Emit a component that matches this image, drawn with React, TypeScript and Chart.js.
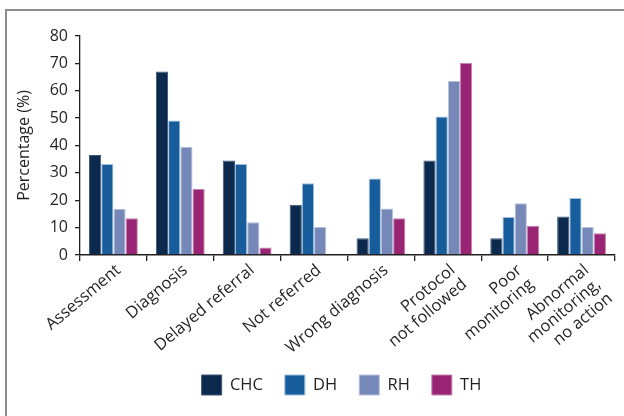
import React, { useEffect, useRef } from "react";
import { Chart, registerables } from "chart.js";

Chart.register(...registerables);

const categories: (string | string[])[] = [
  "Assessment",
  "Diagnosis",
  "Delayed referral",
  "Not referred",
  "Wrong diagnosis",
  ["Protocol", "not followed"],
  ["Poor", "monitoring"],
  ["Abnormal", "monitoring,", "no action"],
];

const chcValues = [36.5, 67.0, 34.5, 18.4, 6.1, 34.5, 6.1, 14.1];
const dhValues = [33.2, 49.1, 33.2, 26.2, 27.9, 50.6, 13.9, 20.8];
const rhValues = [16.9, 39.5, 12.0, 10.2, 17.0, 63.6, 18.9, 10.2];
const thValues = [13.4, 24.2, 2.7, 0, 13.4, 70.1, 10.7, 7.9];

const yTicks = [0, 10, 20, 30, 40, 50, 60, 70, 80];

const FONT = "'Open Sans', 'Noto Sans', sans-serif";
const TEXT = "#231f20";

const legendOverPlot = {
  id: "legendOverPlot",
  afterLayout(chart: any) {
    const lg = chart.legend;
    if (lg) {
      lg.left = chart.chartArea.left - 6;
      lg.right = chart.chartArea.right - 6;
    }
  },
};

export default function App() {
  const ref = useRef<HTMLCanvasElement | null>(null);
  useEffect(() => {
    if (!ref.current) return;
    const mk = (label: string, data: number[], bg: string, bd: string) => ({
      label,
      data,
      backgroundColor: bg,
      borderColor: bd,
      borderWidth: 1,
      borderSkipped: "bottom" as const,
      categoryPercentage: 0.73,
      barPercentage: 1,
    });
    const chart = new Chart(ref.current, {
      type: "bar",
      data: {
        labels: categories,
        datasets: [
          mk("CHC", chcValues, "#0b2a4e", "#3d5577"),
          mk("DH", dhValues, "#175d9b", "#9fbfdc"),
          mk("RH", rhValues, "#7688b8", "#b6c1de"),
          mk("TH", thValues, "#992474", "#c783b2"),
        ],
      },
      options: {
        animation: false,
        responsive: false,
        maintainAspectRatio: false,
        devicePixelRatio: 1,
        layout: { padding: { left: 11, top: 36, right: 9, bottom: 11 } },
        plugins: {
          tooltip: { enabled: false },
          legend: {
            position: "bottom",
            labels: {
              boxWidth: 20,
              boxHeight: 20,
              padding: 22,
              color: TEXT,
              font: { family: FONT, size: 16.5 },
            },
          },
        },
        scales: {
          x: {
            grid: {
              drawOnChartArea: false,
              drawTicks: true,
              tickLength: 6,
              color: TEXT,
              lineWidth: 1.3,
            },
            border: { color: TEXT, width: 1.6 },
            ticks: {
              color: TEXT,
              font: { family: FONT, size: 16.5, lineHeight: 1.12 },
              maxRotation: 40,
              minRotation: 40,
              padding: 0,
              labelOffset: 5,
              autoSkip: false,
            },
            afterFit(scale: any) {
              scale.height = 98;
            },
          },
          y: {
            min: 0,
            max: 80,
            afterBuildTicks(scale: any) {
              scale.ticks = yTicks.map((v) => ({ value: v }));
            },
            grid: {
              drawOnChartArea: false,
              drawTicks: true,
              tickLength: 5,
              color: TEXT,
              lineWidth: 1.3,
            },
            border: { color: TEXT, width: 1.3 },
            ticks: {
              color: TEXT,
              font: { family: FONT, size: 16 },
              padding: 7,
            },
            title: {
              display: true,
              text: "Percentage (%)",
              color: TEXT,
              font: { family: FONT, size: 16 },
              padding: { top: 4, bottom: 4 },
            },
            afterFit(scale: any) {
              scale.width = 69;
            },
          },
        },
      },
      plugins: [legendOverPlot],
    });
    return () => chart.destroy();
  }, []);
  return (
    <div
      style={{
        position: "fixed",
        left: 0,
        top: 0,
        width: 624,
        height: 416,
        background: "#fff",
        overflow: "hidden",
      }}
    >
      <div
        style={{
          position: "absolute",
          left: 5,
          top: 9,
          width: 640,
          height: 420,
          borderTop: "2px solid #8c8c8c",
          borderLeft: "2px solid #8c8c8c",
          boxSizing: "border-box",
        }}
      />
      <canvas
        ref={ref}
        width={624}
        height={416}
        style={{ position: "absolute", left: 0, top: 0, width: 624, height: 416 }}
      />
    </div>
  );
}
